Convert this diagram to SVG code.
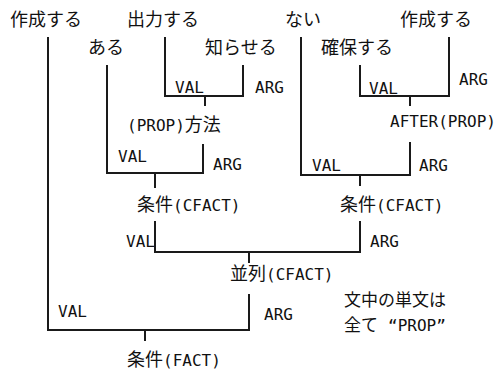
<svg xmlns="http://www.w3.org/2000/svg" width="497" height="370" viewBox="0 0 497 370">
<style>
.j{font-family:"Noto Sans CJK JP","Noto Sans CJK SC",sans-serif;font-size:18px;fill:#111}
.m{font-family:"DejaVu Sans Mono","Liberation Mono",monospace;font-size:16px;fill:#111}
.c{fill:none;stroke:#1a1a1a;stroke-width:2;stroke-linecap:square}
.n{font-size:17px}
</style>
<rect width="497" height="370" fill="#fff"/>
<g id="connectors" class="c">
<path d="M48 38V330H249V295"/>
<path d="M145 330V340"/>
<path d="M165 38V96H243V66"/>
<path d="M205 96V105"/>
<path d="M107 66V173H203V145"/>
<path d="M155 173V187"/>
<path d="M301 38V175H410V143"/>
<path d="M360 175V185"/>
<path d="M360 66V96H449V38"/>
<path d="M410 96V105"/>
<path d="M155 222V252H360V222"/>
<path d="M249 252V262"/>
</g>
<g id="n-sakusei1"><text class="j" x="10" y="26">作成する</text></g>
<g id="n-shutsuryoku"><text class="j" x="127" y="26">出力する</text></g>
<g id="n-nai"><text class="j" x="285" y="26">ない</text></g>
<g id="n-sakusei2"><text class="j" x="400" y="26">作成する</text></g>
<g id="n-aru"><text class="j" x="88" y="54">ある</text></g>
<g id="n-shiraseru"><text class="j" x="205" y="54">知らせる</text></g>
<g id="n-kakuho"><text class="j" x="321" y="54">確保する</text></g>
<g id="l-val1"><text class="m" x="175" y="93">VAL</text></g>
<g id="l-arg1"><text class="m" x="255" y="93">ARG</text></g>
<g id="l-val2"><text class="m" x="369" y="94">VAL</text></g>
<g id="l-arg2"><text class="m" x="459" y="85">ARG</text></g>
<g id="n-houhou"><text x="127" y="131"><tspan class="m">(PROP)</tspan><tspan class="j">方法</tspan></text></g>
<g id="n-after"><text class="m" x="390" y="127">AFTER(PROP)</text></g>
<g id="l-val3"><text class="m" x="118" y="162">VAL</text></g>
<g id="l-arg3"><text class="m" x="213" y="170">ARG</text></g>
<g id="l-val4"><text class="m" x="312" y="171">VAL</text></g>
<g id="l-arg4"><text class="m" x="419" y="171">ARG</text></g>
<g id="n-jouken1"><text x="137" y="211"><tspan class="j">条件</tspan><tspan class="m">(CFACT)</tspan></text></g>
<g id="n-jouken2"><text x="340" y="211"><tspan class="j">条件</tspan><tspan class="m">(CFACT)</tspan></text></g>
<g id="l-val5"><text class="m" x="126" y="247">VAL</text></g>
<g id="l-arg5"><text class="m" x="370" y="247">ARG</text></g>
<g id="n-heiretsu"><text x="230" y="280"><tspan class="j">並列</tspan><tspan class="m">(CFACT)</tspan></text></g>
<g id="l-val6"><text class="m" x="58" y="317">VAL</text></g>
<g id="l-arg6"><text class="m" x="264" y="320">ARG</text></g>
<g id="n-jouken3"><text x="127" y="366"><tspan class="j">条件</tspan><tspan class="m">(FACT)</tspan></text></g>
<g id="note"><text class="j n" x="344" y="306">文中の単文は</text><text x="344" y="331"><tspan class="j n">全て</tspan><tspan class="m" x="388">“PROP”</tspan></text></g>
</svg>
